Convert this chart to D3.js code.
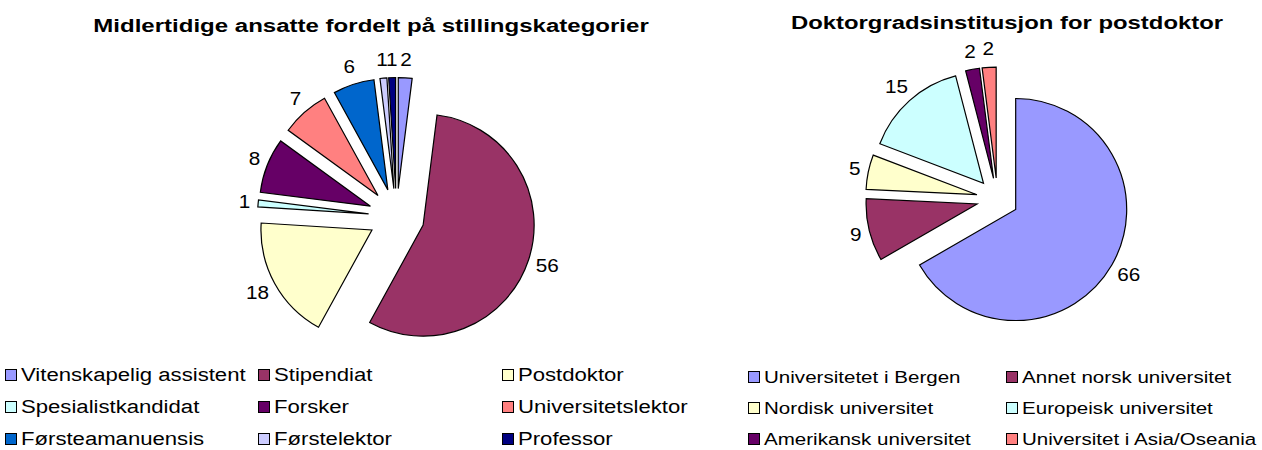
<!DOCTYPE html>
<html>
<head>
<meta charset="utf-8">
<script src="https://cdn.jsdelivr.net/npm/d3@7"></script>
<style>
  body { margin: 0; background: #fff; }
  svg { display: block; font-family: "Liberation Sans", Arial, sans-serif; }
</style>
</head>
<body>
<svg id="chart" width="1262" height="450"></svg>
<script>
// Left pie: temporary staff by position category
const staffCategories = [
  "Vitenskapelig assistent", "Stipendiat", "Postdoktor",
  "Spesialistkandidat", "Forsker", "Universitetslektor",
  "Førsteamanuensis", "Førstelektor", "Professor"
];
const staffCounts = [2, 56, 18, 1, 8, 7, 6, 1, 1];
const staffColors = [
  "#9999ff", "#993366", "#ffffcc",
  "#ccffff", "#660066", "#ff8080",
  "#0066cc", "#ccccff", "#000080"
];

// Right pie: doctorate institution for postdocs
const originCategories = [
  "Universitetet i Bergen", "Annet norsk universitet",
  "Nordisk universitet", "Europeisk universitet",
  "Amerikansk universitet", "Universitet i Asia/Oseania"
];
const originCounts = [66, 9, 5, 15, 2, 2];
const originColors = ["#9999ff", "#993366", "#ffffcc", "#ccffff", "#660066", "#ff8080"];

const svg = d3.select("#chart");

function drawPie(cfg) {
  const g = svg.append("g");

  // title (text is rendered a bit wide in the original, hence the x-scale)
  g.append("text")
    .attr("transform", `translate(${cfg.titleX},${cfg.titleY}) scale(${cfg.titleStretch},1)`)
    .attr("text-anchor", "middle")
    .attr("font-weight", "bold")
    .attr("font-size", cfg.titleSize)
    .attr("fill", "#000")
    .text(cfg.title);

  const pie = d3.pie().sort(null).value((d) => d)
    .startAngle(0).endAngle(2 * Math.PI);
  const arc = d3.arc().innerRadius(0).outerRadius(cfg.radius);
  const arcs = pie(cfg.values);

  const dir = (a) => [Math.sin(a), -Math.cos(a)];

  const slices = g.append("g")
    .attr("transform", `translate(${cfg.cx},${cfg.cy})`);

  slices.selectAll("path")
    .data(arcs)
    .join("path")
    .attr("transform", (d) => {
      const [ux, uy] = dir((d.startAngle + d.endAngle) / 2);
      return `translate(${ux * cfg.explode},${uy * cfg.explode})`;
    })
    .attr("d", arc)
    .attr("fill", (d, i) => cfg.colors[i])
    .attr("stroke", "#000")
    .attr("stroke-width", 1.2)
    .attr("stroke-linejoin", "miter");

  // value labels, placed just outside each exploded slice
  const labels = slices.selectAll("text.val")
    .data(arcs)
    .join("text")
    .attr("class", "val")
    .attr("text-anchor", "middle")
    .attr("dy", "0.36em")
    .attr("font-size", cfg.labelSize)
    .attr("fill", "#000")
    .text((d) => d.value);

  labels.each(function (d) {
    const t = d3.select(this);
    const w = this.getComputedTextLength() * cfg.labelStretch;
    const h = cfg.labelSize * 0.72;
    const [ux, uy] = dir((d.startAngle + d.endAngle) / 2);
    const base = cfg.radius + cfg.explode;
    const x = ux * base + ux * (w / 2 + 8);
    const y = uy * base + uy * (h / 2 + 12);
    t.attr("transform", `translate(${x},${y}) scale(${cfg.labelStretch},1)`);
  });

  // legend, row-major
  const nCols = cfg.legendCols.length;
  const items = g.append("g").selectAll("g")
    .data(cfg.categories)
    .join("g")
    .attr("transform", (d, i) =>
      `translate(${cfg.legendCols[i % nCols]},${cfg.legendRows[Math.floor(i / nCols)]})`);

  items.append("rect")
    .attr("x", 0.5)
    .attr("y", -5.5)
    .attr("width", 11)
    .attr("height", 11)
    .attr("fill", (d, i) => cfg.colors[i])
    .attr("stroke", "#000")
    .attr("stroke-width", 1);

  items.append("text")
    .attr("transform", `translate(16,0) scale(${cfg.legendStretch},1)`)
    .attr("dy", "0.36em")
    .attr("font-size", cfg.legendSize)
    .attr("fill", "#000")
    .text((d) => d);
}

drawPie({
  title: "Midlertidige ansatte fordelt på stillingskategorier",
  titleX: 371, titleY: 32, titleSize: 18.5, titleStretch: 1.3,
  categories: staffCategories, values: staffCounts, colors: staffColors,
  cx: 396.5, cy: 216.5, radius: 111, explode: 28,
  labelSize: 18.5, labelStretch: 1.12,
  legendCols: [5, 258, 502], legendRows: [375, 407, 439],
  legendSize: 18, legendStretch: 1.23
});

drawPie({
  title: "Doktorgradsinstitusjon for postdoktor",
  titleX: 1007, titleY: 29, titleSize: 18.5, titleStretch: 1.29,
  categories: originCategories, values: originCounts, colors: originColors,
  cx: 997.5, cy: 199, radius: 111, explode: 21,
  labelSize: 18.5, labelStretch: 1.12,
  legendCols: [748, 1006], legendRows: [377, 408, 439],
  legendSize: 17, legendStretch: 1.21
});
</script>
</body>
</html>
